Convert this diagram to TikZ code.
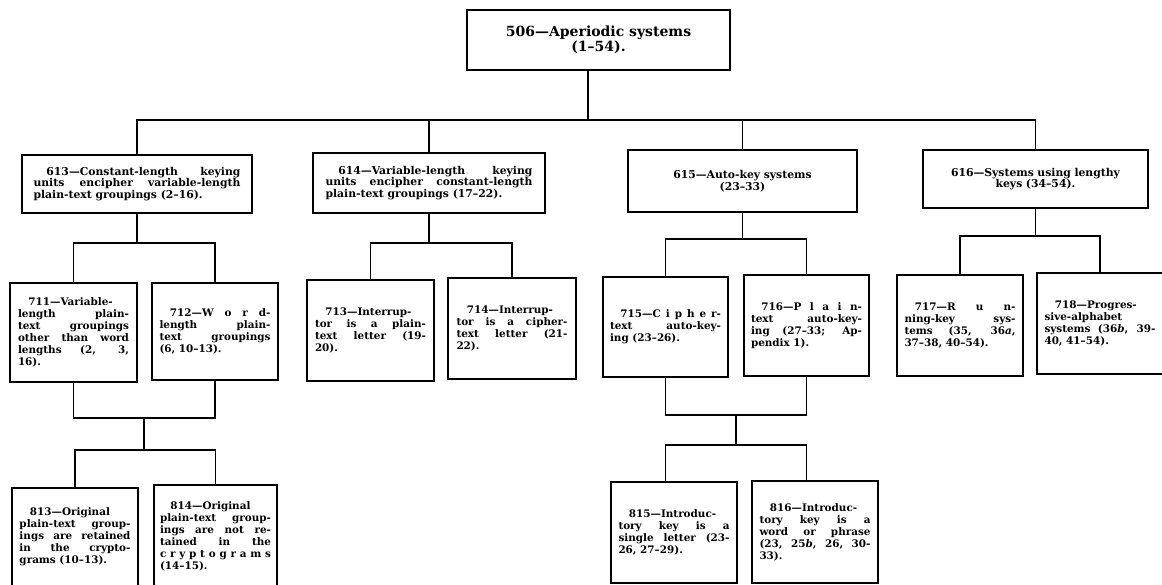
\documentclass[tikz,border=0pt]{standalone}
\usepackage{fontspec}
\setmainfont{DejaVu Serif}
\tolerance=10000
\hbadness=10000
\hfuzz=30pt

\begin{document}
\begin{tikzpicture}[x=1pt, y=-1pt, line width=1.5pt,
    box/.style={draw, line width=1.7pt, inner sep=0pt},
    topbox/.style={box, align=center, font=\bfseries\fontsize{14}{15}\selectfont},
    grpbox/.style={box, text width=207pt, align=justify, font=\bfseries\fontsize{10.8}{11.5}\selectfont},
    midbox/.style={box, text width=207pt, align=center, font=\bfseries\fontsize{10.8}{11.5}\selectfont},
    leafbox/.style={box, text width=111pt, align=justify, font=\bfseries\fontsize{10.4}{12}\selectfont}]

    \useasboundingbox (0,0) rectangle (1162,584);

    % Top of the tree
    \node[topbox, minimum width=263pt, minimum height=60pt] (top) at (598.5,40)
        {506—Aperiodic systems\\(1–54).};

    % Second row
    \node[grpbox, minimum width=230pt, minimum height=58pt] (b613) at (137,184)
        {\hspace*{1.2em}613—Constant-length keying\linebreak units encipher variable-length\linebreak plain-text groupings (2–16).};
    \node[grpbox, minimum width=232pt, minimum height=60pt] (b614) at (429,183)
        {\hspace*{1.2em}614—Variable-length keying\linebreak units encipher constant-length\linebreak plain-text groupings (17–22).};
    \node[midbox, minimum width=229pt, minimum height=62pt] (b615) at (742.5,181)
        {615—Auto-key systems\\(23–33)};
    \node[midbox, minimum width=225pt, minimum height=58pt] (b616) at (1035.5,179)
        {616—Systems using lengthy\\keys (34–54).};

    % Third row
    \node[leafbox, minimum width=127pt, minimum height=99pt] (b711) at (73.5,332.5)
        {\hspace*{1em}711—Variable-\linebreak length plain-\linebreak text groupings\linebreak other than word\linebreak lengths (2, 3,\linebreak 16).};
    \node[leafbox, minimum width=126pt, minimum height=97pt] (b712) at (215,331.5)
        {\hspace*{1em}712—W o r d-\linebreak length plain-\linebreak text groupings\linebreak (6, 10–13).};
    \node[leafbox, minimum width=127pt, minimum height=101pt] (b713) at (370.5,330.5)
        {\hspace*{1em}713—Interrup-\linebreak tor is a plain-\linebreak text letter (19-\linebreak 20).};
    \node[leafbox, minimum width=128pt, minimum height=101pt] (b714) at (512,328.5)
        {\hspace*{1em}714—Interrup-\linebreak tor is a cipher-\linebreak text letter (21-\linebreak 22).};
    \node[leafbox, minimum width=125pt, minimum height=100pt] (b715) at (665.5,327)
        {\hspace*{1em}715—C i p h e r-\linebreak text auto-key-\linebreak ing (23–26).};
    \node[leafbox, minimum width=125pt, minimum height=101pt] (b716) at (806.5,325.5)
        {\hspace*{1em}716—P l a i n-\linebreak text auto-key-\linebreak ing (27–33; Ap-\linebreak pendix 1).};
    \node[leafbox, minimum width=126pt, minimum height=101pt] (b717) at (960,325.5)
        {\hspace*{1em}717—R u n-\linebreak ning-key sys-\linebreak tems (35, 36\textit{a},\linebreak 37–38, 40–54).};
    \node[leafbox, minimum width=126pt, minimum height=101pt] (b718) at (1100,323.5)
        {\hspace*{1em}718—Progres-\linebreak sive-alphabet\linebreak systems (36\textit{b}, 39-\linebreak 40, 41–54).};

    % Fourth row
    \node[leafbox, minimum width=126pt, minimum height=98pt] (b813) at (75,537)
        {\hspace*{1em}813—Original\linebreak plain-text group-\linebreak ings are retained\linebreak in the crypto-\linebreak grams (10–13).\par\vspace*{18pt}};
    \node[leafbox, minimum width=123pt, minimum height=102pt] (b814) at (215.5,536)
        {\hspace*{1em}814—Original\linebreak plain-text group-\linebreak ings are not re-\linebreak tained in the\linebreak c r y p t o g r a m s\linebreak (14–15).\par\vspace*{10pt}};
    \node[leafbox, minimum width=126pt, minimum height=101pt] (b815) at (674,532.5)
        {\hspace*{1em}815—Introduc-\linebreak tory key is a\linebreak single letter (23-\linebreak 26, 27–29).};
    \node[leafbox, minimum width=126pt, minimum height=102pt] (b816) at (815,532)
        {\hspace*{1em}816—Introduc-\linebreak tory key is a\linebreak word or phrase\linebreak (23, 25\textit{b}, 26, 30-\linebreak 33).};

    % Junctions
    \coordinate (bus) at (588,120);
    \coordinate (j711) at (144,418);
    \coordinate (k711) at (144,450);
    \coordinate (j715) at (736,415);
    \coordinate (k715) at (736,445);

    % Connectors, first level
    \draw (top.south -| bus) -- (bus);
    \draw (b613.north) |- (bus) -| (b616.north);
    \draw (b614.north) -- (b614.north |- bus);
    \draw (b615.north) -- (b615.north |- bus);

    % Connectors, second level
    \draw (b613.south) -- ++(0,29) coordinate (j613);
    \draw (b711.north) |- (j613) -| (b712.north);
    \draw (b614.south) -- ++(0,29) coordinate (j614);
    \draw (b713.north) |- (j614) -| (b714.north);
    \draw (b615.south) -- ++(0,26) coordinate (j615);
    \draw (b715.north) |- (j615) -| (b716.north);
    \draw (b616.south) -- ++(0,27) coordinate (j616);
    \draw (b717.north) |- (j616) -| (b718.north);

    % Connectors, third level
    \draw (b711.south) |- (j711) -| (b712.south);
    \draw (j711) -- (k711);
    \draw (b813.north) |- (k711) -| (b814.north);
    \draw (b715.south) |- (j715) -| (b716.south);
    \draw (j715) -- (k715);
    \draw (b715.south |- b815.north) |- (k715) -| (b716.south |- b816.north);
\end{tikzpicture}
\end{document}
